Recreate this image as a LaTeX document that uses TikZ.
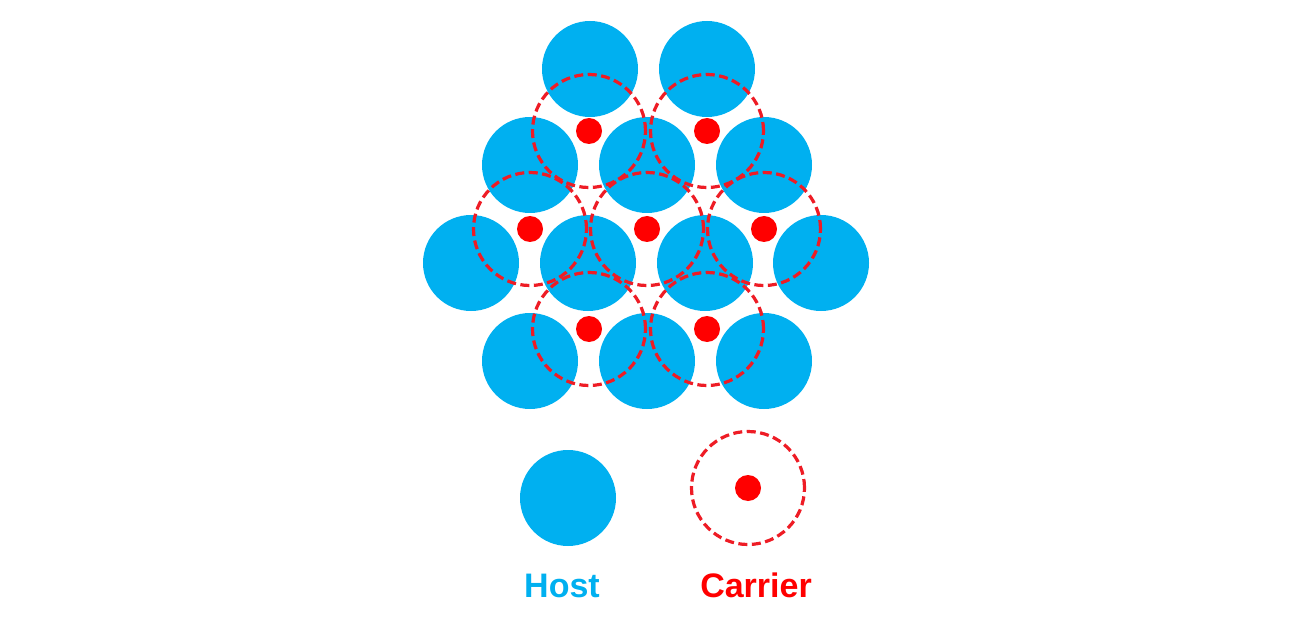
\documentclass[tikz,border=0pt]{standalone}
\usepackage{fontspec}
\setmainfont{Liberation Sans}
\definecolor{hostcol}{HTML}{00B0F0}
\definecolor{carriercol}{HTML}{FF0000}
\definecolor{ringcol}{HTML}{EE1C25}
\tikzset{
  hnode/.style={circle, fill=hostcol, minimum size=96pt, inner sep=0pt},
  rnode/.style={circle, draw=ringcol, line width=3.2pt, dash pattern=on 9pt off 4.5pt, minimum size=113pt, inner sep=0pt},
  dnode/.style={circle, fill=carriercol, minimum size=26pt, inner sep=0pt},
  lnode/.style={font=\bfseries\fontsize{34}{40}\selectfont, anchor=base, inner sep=0pt},
}
\begin{document}
\begin{tikzpicture}[x=1pt, y=-1pt]
  \useasboundingbox (0,0) rectangle (1300,628);
  % host lattice, row by row
  \foreach \x/\n in {590/1, 707/2}
    \node[hnode] (Ha\n) at (\x, 69) {};
  \foreach \x/\n in {530/1, 647/2, 764/3}
    \node[hnode] (Hb\n) at (\x, 165) {};
  \foreach \x/\n in {471/1, 588/2, 705/3, 821/4}
    \node[hnode] (Hc\n) at (\x, 263) {};
  \foreach \x/\n in {530/1, 647/2, 764/3}
    \node[hnode] (Hd\n) at (\x, 361) {};
  % carriers: dashed ring with dot
  \foreach \x/\y/\n in {589/131/1, 707/131/2, 530/229/3, 647/229/4, 764/229/5, 589/329/6, 707/329/7} {
    \node[rnode] (R\n) at (\x, \y) {};
    \node[dnode] (C\n) at (\x, \y) {};
  }
  % legend
  \node[hnode] (hostkey) at (568, 498) {};
  \node[rnode] (ringkey) at (748, 488) {};
  \node[dnode] (dotkey) at (ringkey) {};
  \node[lnode, text=hostcol] (hostlabel) at (562, 597) {Host};
  \node[lnode, text=carriercol] (carrierlabel) at (756, 597) {Carrier};
\end{tikzpicture}
\end{document}
